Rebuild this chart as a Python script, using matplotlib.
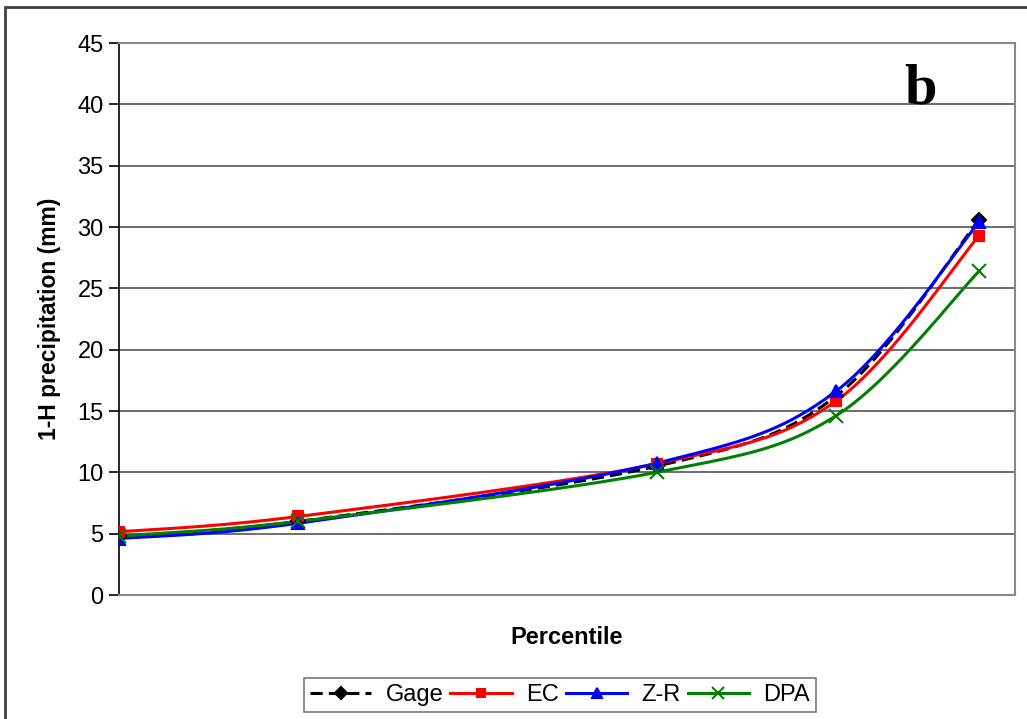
import numpy as np
import matplotlib.pyplot as plt
from matplotlib.patches import Rectangle

# percentile positions and 1-H precipitation values (mm)
percentiles = [75, 80, 90, 95, 99]
gage = [4.8, 6.0, 10.5, 16.2, 30.6]
ec = [5.15, 6.4, 10.7, 15.8, 29.3]
zr = [4.6, 5.85, 10.75, 16.6, 30.4]
dpa = [4.8, 6.0, 10.0, 14.6, 26.4]


def smooth(x, y, n=40):
    # Catmull-Rom style curve through the points, like a smoothed spreadsheet line
    x = np.asarray(x, float)
    y = np.asarray(y, float)
    px = np.concatenate([[x[0]], x, [x[-1]]])
    py = np.concatenate([[y[0]], y, [y[-1]]])
    xs, ys = [], []
    t = np.linspace(0, 1, n)
    for i in range(1, len(px) - 2):
        p0, p1, p2, p3 = (np.array([px[j], py[j]]) for j in range(i - 1, i + 3))
        c1 = p1 + (p2 - p0) / 6
        c2 = p2 - (p3 - p1) / 6
        b = ((1 - t) ** 3)[:, None] * p1 + (3 * (1 - t) ** 2 * t)[:, None] * c1 \
            + (3 * (1 - t) * t ** 2)[:, None] * c2 + (t ** 3)[:, None] * p2
        xs.extend(b[:, 0])
        ys.extend(b[:, 1])
    return xs, ys


plt.rcParams['font.family'] = ['Liberation Sans', 'DejaVu Sans']

fig = plt.figure(figsize=(10.27, 7.19), dpi=100)
ax = fig.add_axes([119 / 1027, 1 - 595 / 719, 896 / 1027, 552 / 719])

series = [
    ("Gage", gage, "black", "D", (0, (4, 2)), 7),
    ("EC", ec, "red", "s", "-", 7),
    ("Z-R", zr, "blue", "^", "-", 8),
    ("DPA", dpa, "green", "x", "-", 10),
]

handles = []
for label, vals, color, marker, ls, ms in series:
    sx, sy = smooth(percentiles, vals)
    ax.plot(sx, sy, color=color, lw=2.2, ls=ls, zorder=3)
    ax.plot(percentiles, vals, ls="none", marker=marker, color=color,
            ms=ms, mew=1.5, zorder=4)
    h, = ax.plot([], [], color=color, lw=2.2, ls=ls, marker=marker,
                 ms=ms - 1, mew=1.5, label=label)
    handles.append(h)

ax.set_xlim(75, 100)
ax.set_ylim(0, 45)
ax.set_yticks(range(0, 46, 5))
ax.set_xticks([])
ax.grid(axis="y", color="#555555", lw=1.2)
ax.set_axisbelow(True)

for side in ["top", "right", "bottom"]:
    ax.spines[side].set_color("#888888")
    ax.spines[side].set_linewidth(1.5)
ax.spines["left"].set_color("black")
ax.spines["left"].set_linewidth(1.2)
ax.tick_params(axis="y", labelsize=17, length=7, width=1.2, pad=4)

ax.set_xlabel("Percentile", fontsize=17, fontweight="bold", labelpad=22)
ax.set_ylabel("1-H precipitation (mm)", fontsize=16.5, fontweight="bold", labelpad=12)

ax.text(0.895, 0.915, "b", transform=ax.transAxes, fontsize=42,
        fontweight="bold", family="Liberation Serif", ha="center", va="center")

leg = fig.legend(handles=handles, loc="center", bbox_to_anchor=(560 / 1027, 1 - 695 / 719),
                 ncol=4, fontsize=17, frameon=True, fancybox=False,
                 handlelength=2.6, handletextpad=0.6, columnspacing=0.3,
                 borderpad=0.25)
leg.get_frame().set_edgecolor("#555555")
leg.get_frame().set_linewidth(1.2)

# outer chart frame, cut off at the right and bottom
fig.patches.append(Rectangle((5 / 1027, -0.1), 1.2, 1 - 7 / 719 + 0.1,
                             transform=fig.transFigure, fill=False,
                             edgecolor="#404040", lw=2))

fig.savefig("out.png", dpi=100)
